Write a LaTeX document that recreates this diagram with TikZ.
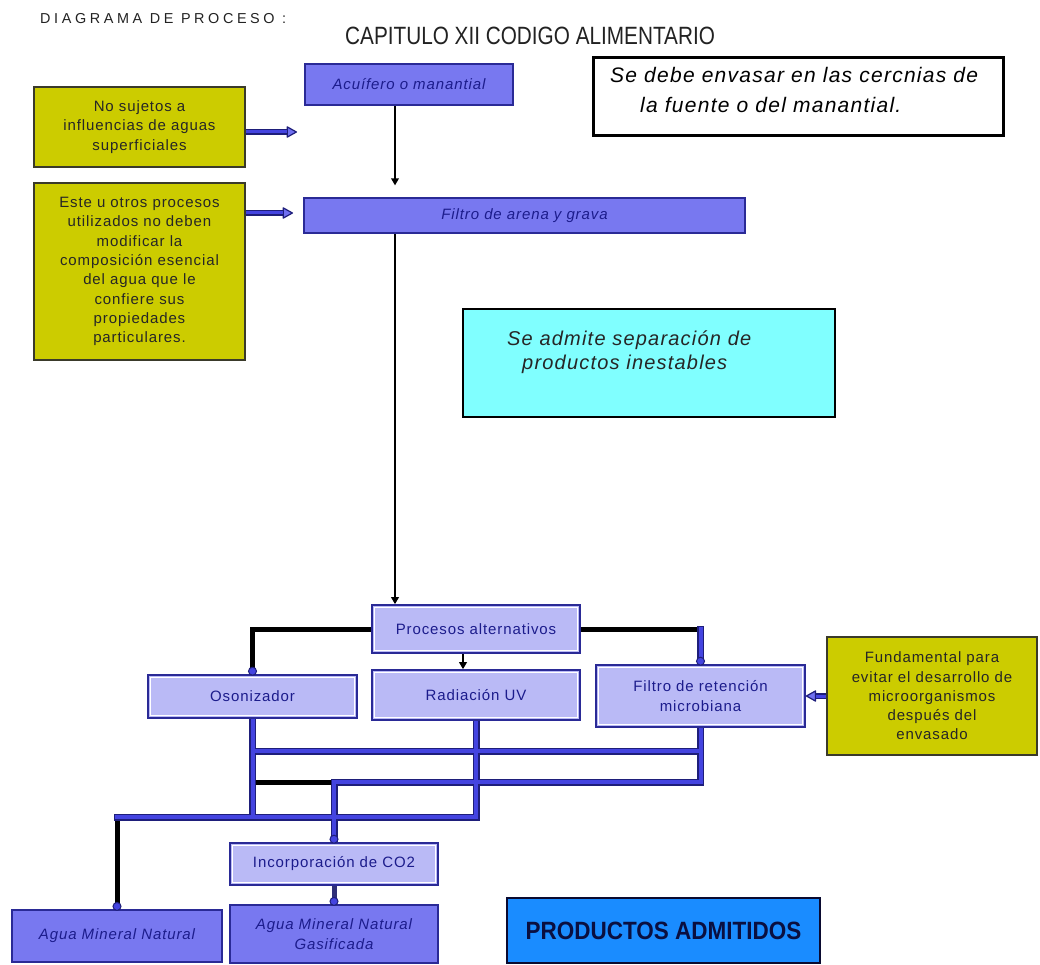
\documentclass[tikz,border=0pt]{standalone}
\usepackage{fontspec}
\setmainfont{Liberation Sans}
\usetikzlibrary{arrows.meta}
\newfontfamily\pixfont[LetterSpace=6]{Liberation Sans}
\newfontfamily\narrowfont[FakeStretch=0.83]{Liberation Sans}
\newfontfamily\boldnarrowfont[FakeStretch=0.9]{Liberation Sans Bold}
\newfontfamily\widefont[LetterSpace=25]{Liberation Sans}

\definecolor{yellowfill}{HTML}{CCCC00}
\definecolor{yellowedge}{HTML}{3A3A2A}
\definecolor{perfill}{HTML}{7878F0}
\definecolor{lavfill}{HTML}{BABAF6}
\definecolor{boxedge}{HTML}{2A2A96}
\definecolor{navytext}{HTML}{1C1C8C}
\definecolor{pipecorec}{HTML}{4444E0}
\definecolor{pipeedgec}{HTML}{1E1E7A}
\definecolor{arrowfill}{HTML}{7070F0}
\definecolor{cyanfill}{HTML}{80FFFF}
\definecolor{prodfill}{HTML}{1A8CFF}
\definecolor{prodedge}{HTML}{0A0A30}
\definecolor{prodtext}{HTML}{0A0F40}
\definecolor{inkgray}{HTML}{222222}
\definecolor{gasline}{HTML}{303078}

\pgfdeclarelayer{paper}
\pgfdeclarelayer{links}
\pgfsetlayers{paper,links,main}

\begin{document}
\begin{tikzpicture}[
  x={(1pt,0)}, y={(0,-1pt)},
  yellowbox/.style={draw=yellowedge, fill=yellowfill, line width=1.2pt, align=center,
    text=black!85, inner sep=0pt, font=\pixfont\fontsize{15}{19.3}\selectfont},
  perbox/.style={draw=boxedge, fill=perfill, line width=1.2pt, align=center,
    text=navytext, inner sep=0pt, font=\pixfont\itshape\fontsize{15}{20}\selectfont},
  lavbox/.style={draw=boxedge, fill=lavfill, line width=1.6pt, align=center,
    text=navytext, inner sep=0pt, font=\pixfont\fontsize{15}{20}\selectfont,
    path picture={\draw[white, line width=0.9pt]
      ([shift={(2.4pt,-2.4pt)}]path picture bounding box.north west) rectangle
      ([shift={(-2.4pt,2.4pt)}]path picture bounding box.south east);}},
  notetext/.style={anchor=base west, inner sep=0pt, text=black,
    font=\pixfont\itshape\fontsize{21}{25}\selectfont},
  cyantext/.style={anchor=base west, inner sep=0pt, text=black!85,
    font=\pixfont\itshape\fontsize{20}{24}\selectfont},
  pipeedge/.style={draw=pipeedgec, line width=7pt, line cap=rect},
  pipecore/.style={draw=pipecorec, line width=4pt, line cap=rect},
  blackline/.style={draw=black, line width=5pt},
  blackarrow/.style={draw=black, line width=2.5pt, -{Triangle[length=7pt,width=7.5pt]}},
  barrowedge/.style={draw=pipeedgec, line width=6pt,
    -{Triangle[length=11pt,width=12pt,round,fill=arrowfill,color=pipeedgec,line width=1.2pt]}},
  barrowcore/.style={draw=pipecorec, line width=3pt, shorten >=10pt},
  enddot/.style={fill=pipecorec, draw=pipeedgec, line width=1pt}
]
\begin{pgfonlayer}{paper}
  \fill[white] (0,0) rectangle (1040,965);
\end{pgfonlayer}
\useasboundingbox (0,0) rectangle (1040,965);

% headings
\node[anchor=base west, inner sep=0pt, text=inkgray,
  font=\widefont\fontsize{14.4}{16}\selectfont] (hdr) at (40,24) {DIAGRAMA DE PROCESO :};
\node[anchor=base west, inner sep=0pt, text=inkgray,
  font=\narrowfont\fontsize{25}{28}\selectfont] (ttl) at (345,45) {CAPITULO XII CODIGO ALIMENTARIO};

% note on packaging
\node[draw=black, line width=3pt, fill=white, minimum width=410pt, minimum height=78pt,
  inner sep=0pt] (note) at (798,97) {};
\node[notetext] (n1) at (610,83) {Se debe envasar en las cercnias de};
\node[notetext] (n2) at (640,113) {la fuente o del manantial.};

% source and first filter
\node[perbox, minimum width=208pt, minimum height=41pt] (acu) at (409,84.5) {Acuífero o manantial};
\node[yellowbox, minimum width=211pt, minimum height=80pt] (y1) at (139.5,127)
  {No sujetos a\\influencias de aguas\\superficiales};
\node[perbox, minimum width=441pt, minimum height=35pt] (fil) at (524.5,215.5) {Filtro de arena y grava};
\node[yellowbox, minimum width=211pt, minimum height=177pt] (y2) at (139.5,271.5)
  {Este u otros procesos\\utilizados no deben\\modificar la\\composición esencial\\del agua que le\\confiere sus\\propiedades\\particulares.};

% unstable products note
\node[draw=black, line width=2.5pt, fill=cyanfill, minimum width=372pt, minimum height=108pt,
  inner sep=0pt] (cyn) at (649,363) {};
\node[cyantext] (s1) at (507,345) {Se admite separación de};
\node[cyantext] (s2) at (522,369) {productos inestables};

% alternative processes
\node[lavbox, minimum width=208pt, minimum height=48pt] (proc) at (476,629) {Procesos alternativos};
\node[lavbox, minimum width=209pt, minimum height=43pt] (osz) at (252.5,696.5) {Osonizador};
\node[lavbox, minimum width=208pt, minimum height=50pt] (rad) at (476,695) {Radiación UV};
\node[lavbox, minimum width=209pt, minimum height=62pt] (fret) at (700.5,696) {Filtro de retención\\microbiana};
\node[yellowbox, minimum width=210pt, minimum height=118pt] (y3) at (932,696)
  {Fundamental para\\evitar el desarrollo de\\microorganismos\\después del\\envasado};

% products
\node[lavbox, minimum width=208pt, minimum height=42pt] (inc) at (334,864) {Incorporación de CO2};
\node[perbox, minimum width=210pt, minimum height=52pt] (amn) at (117,936) {Agua Mineral Natural};
\node[perbox, minimum width=208pt, minimum height=58pt] (gas) at (334,934) {Agua Mineral Natural\\Gasificada};
\node[draw=prodedge, line width=2.5pt, fill=prodfill, minimum width=313pt, minimum height=65pt,
  inner sep=0pt, text=prodtext, font=\boldnarrowfont\fontsize{25}{28}\selectfont]
  (prod) at (663.5,930.5) {PRODUCTOS ADMITIDOS};

% helper rows and columns for the piping
\coordinate (r1) at (0,751);
\coordinate (r2) at (0,782);
\coordinate (r3) at (0,817);
\coordinate (xa) at (395,0);
\coordinate (xb) at (463,0);
\coordinate (a1) at (297,132);
\coordinate (a2) at (293,213);

\begin{pgfonlayer}{links}
  % black connectors
  \draw[blackline] (proc.west) -| (osz.north);
  \draw[blackline] (proc.east) -- (fret.north |- proc.east);
  \draw[blackline] (osz.south |- r2) -- (inc.north |- r2);
  \draw[blackline] (amn.north |- r3) -- (amn.north);
  \draw[draw=gasline, line width=5pt] (inc.south) -- (gas.north);
  \draw[blackarrow, shorten >=12pt] (acu.south -| xa) -- (fil.north -| xa);
  \draw[blackarrow] (fil.south -| xa) -- (proc.north -| xa);
  \draw[blackarrow] (proc.south -| xb) -- (rad.north -| xb);

  % blue piping network
  \def\pipenet{
    (osz.south) -- (osz.south |- r3)
    (rad.south) -- (rad.south |- r3)
    (fret.south) -- (fret.south |- r2)
    (osz.south |- r1) -- (fret.south |- r1)
    (inc.north |- r2) -- (fret.south |- r2)
    (amn.north |- r3) -- (rad.south |- r3)
    (inc.north |- r2) -- (inc.north)
    (fret.north |- proc.east) -- (fret.north)}
  \draw[pipeedge] \pipenet;
  \draw[pipecore] \pipenet;

  % blue arrows from the notes
  \draw[barrowedge] ([yshift=-5pt]y1.east) -- (a1);
  \draw[barrowcore] ([yshift=-5pt]y1.east) -- (a1);
  \draw[barrowedge] (y2.east |- a2) -- (a2);
  \draw[barrowcore] (y2.east |- a2) -- (a2);
  \draw[barrowedge] (y3.west |- fret.east) -- (fret.east);
  \draw[barrowcore] (y3.west |- fret.east) -- (fret.east);
\end{pgfonlayer}

% joint dots at the box entries
\draw[enddot] ([yshift=3pt]osz.north) circle (4pt);
\draw[enddot] ([yshift=3pt]fret.north) circle (4pt);
\draw[enddot] ([yshift=3pt]inc.north) circle (4pt);
\draw[enddot] ([yshift=3pt]amn.north) circle (4pt);
\draw[enddot] ([yshift=3pt]gas.north) circle (4pt);
\end{tikzpicture}
\end{document}
